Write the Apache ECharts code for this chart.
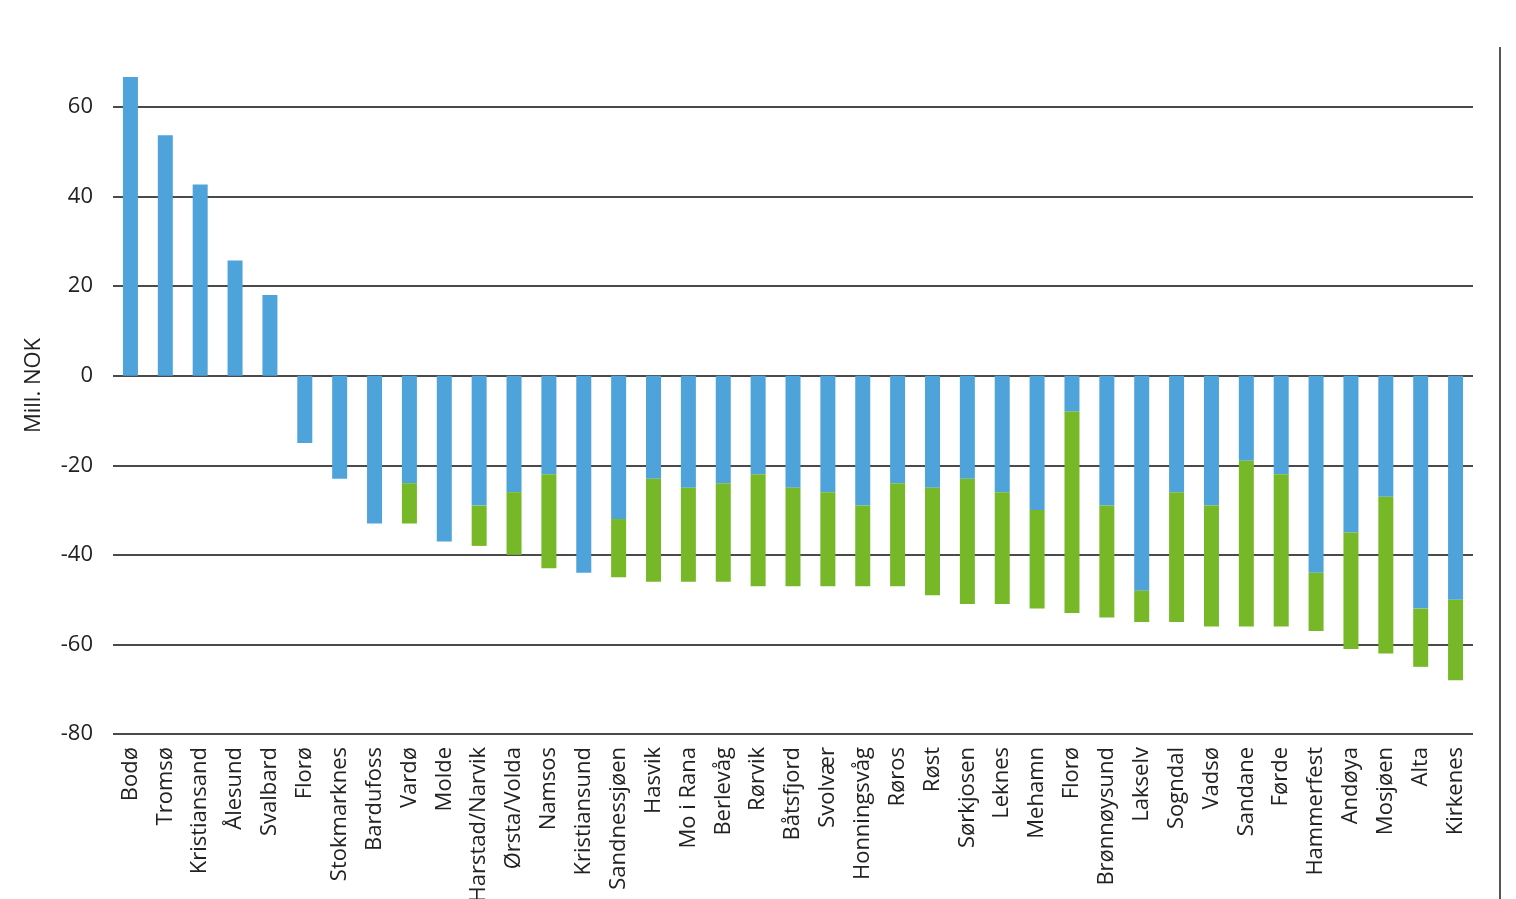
<!DOCTYPE html>
<html lang="no">
<head>
  <meta charset="UTF-8">
  <title>Mill. NOK per lufthavn</title>
  <script src="https://cdn.jsdelivr.net/npm/echarts@6/dist/echarts.min.js"></script>
  <style>
    html, body { margin: 0; padding: 0; background: #fff; }
    #chart { width: 1516px; height: 899px; }
  </style>
</head>
<body>
<div id="chart"></div>
<script>
  // lufthavner, i samme rekkefølge som i figuren
  const lufthavner = [
    "Bodø", "Tromsø", "Kristiansand", "Ålesund", "Svalbard", "Florø", "Stokmarknes",
    "Bardufoss", "Vardø", "Molde", "Harstad/Narvik", "Ørsta/Volda", "Namsos",
    "Kristiansund", "Sandnessjøen", "Hasvik", "Mo i Rana", "Berlevåg", "Rørvik",
    "Båtsfjord", "Svolvær", "Honningsvåg", "Røros", "Røst", "Sørkjosen", "Leknes",
    "Mehamn", "Florø", "Brønnøysund", "Lakselv", "Sogndal", "Vadsø", "Sandane",
    "Førde", "Hammerfest", "Andøya", "Mosjøen", "Alta", "Kirkenes"
  ];

  // blå del av søylen
  const blaa = [
    66.7, 53.7, 42.7, 25.7, 18, -15, -23,
    -33, -24, -37, -29, -26, -22,
    -44, -32, -23, -25, -24, -22,
    -25, -26, -29, -24, -25, -23, -26,
    -30, -8, -29, -48, -26, -29, -19,
    -22, -44, -35, -27, -52, -50
  ];

  // grønn del (stables under den blå)
  const groenn = [
    0, 0, 0, 0, 0, 0, 0,
    0, -9, 0, -9, -14, -21,
    0, -13, -23, -21, -22, -25,
    -22, -21, -18, -23, -24, -28, -25,
    -22, -45, -25, -7, -29, -27, -37,
    -34, -13, -26, -35, -13, -18
  ];

  const yTicks = [-80, -60, -40, -20, 0, 20, 40, 60];

  const chart = echarts.init(document.getElementById("chart"));

  chart.setOption({
    backgroundColor: "#ffffff",
    animation: false,
    textStyle: { fontFamily: "Open Sans, sans-serif" },
    grid: { left: 113, right: 43, top: 107, bottom: 165, outerBoundsMode: "none" },
    xAxis: {
      type: "category",
      data: lufthavner,
      axisLine: { show: false, onZero: false },
      axisTick: { show: false },
      axisLabel: {
        rotate: 90,
        interval: 0,
        margin: 13,
        fontSize: 22,
        color: "#222"
      }
    },
    yAxis: {
      type: "value",
      min: yTicks[0],
      max: yTicks[yTicks.length - 1],
      interval: 20,
      name: "Mill. NOK",
      nameLocation: "middle",
      nameGap: 68,
      nameTextStyle: { fontSize: 22, color: "#222", padding: [0, 0, 0, 70] },
      axisLine: { show: false },
      axisTick: { show: false },
      axisLabel: { fontSize: 22, color: "#222", margin: 20 },
      splitLine: { lineStyle: { color: "#4a4a4a", width: 2 } }
    },
    series: [
      {
        name: "blå",
        type: "bar",
        stack: "sum",
        clip: false,
        barWidth: 15,
        itemStyle: { color: "#4FA3DB" },
        data: blaa
      },
      {
        name: "grønn",
        type: "bar",
        stack: "sum",
        clip: false,
        barWidth: 15,
        itemStyle: { color: "#77B829" },
        data: groenn
      }
    ],
    graphic: [
      {
        type: "line",
        shape: { x1: 1500, y1: 47, x2: 1500, y2: 899 },
        style: { stroke: "#555", lineWidth: 2 }
      }
    ]
  });
</script>
</body>
</html>
